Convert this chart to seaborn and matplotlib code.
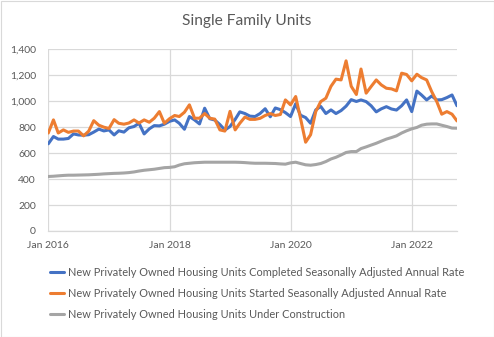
import matplotlib
matplotlib.use("Agg")
import matplotlib.pyplot as plt
import matplotlib.dates as mdates
from matplotlib.ticker import FuncFormatter
from matplotlib.patches import Rectangle
import pandas as pd
import seaborn as sns

start_month = "2016-01-01"
n_months = 82  # Jan 2016 .. Oct 2022

completed = [672, 728, 708, 708, 713, 748, 740, 738, 742, 762, 785, 771,
             779, 740, 772, 762, 795, 805, 830, 748, 787, 812, 810, 823,
             845, 856, 830, 784, 882, 856, 825, 946, 865, 855, 820, 778,
             805, 860, 918, 905, 885, 882, 905, 942, 880, 948, 935, 912,
             882, 980, 892, 874, 830, 933, 960, 905, 933, 905, 928, 962,
             1012, 998, 1010, 997, 965, 918, 941, 958, 940, 932, 965, 1010,
             920, 1078, 1048, 1010, 1040, 1010, 1012, 1028, 1048, 965]

started = [755, 856, 755, 779, 760, 770, 770, 733, 770, 850, 815, 800,
           790, 858, 830, 823, 832, 856, 832, 856, 838, 869, 920, 830,
           865, 890, 882, 915, 972, 869, 869, 905, 869, 862, 779, 770,
           922, 779, 830, 878, 860, 860, 868, 890, 905, 890, 898, 1010,
           972, 1036, 869, 684, 742, 920, 997, 1023, 1115, 1170, 1164, 1311,
           1115, 1052, 1248, 1062, 1113, 1164, 1126, 1100, 1095, 1080, 1216, 1206,
           1157, 1208, 1182, 1164, 1075, 997, 900, 920, 900, 848]

under_construction = [420, 422, 425, 428, 430, 430, 431, 432, 433, 435, 437, 440,
                      442, 444, 445, 447, 450, 455, 462, 468, 472, 476, 482, 488,
                      490, 495, 508, 518, 522, 526, 528, 530, 530, 530, 530, 530,
                      530, 530, 529, 527, 524, 522, 522, 522, 521, 520, 517, 515,
                      525, 530, 520, 510, 507, 512, 520, 535, 555, 568, 586, 605,
                      612, 612, 635, 648, 662, 676, 692, 708, 720, 733, 755, 772,
                      787, 798, 815, 823, 825, 825, 815, 805, 793, 792]

series_names = [
    "New Privately Owned Housing Units Completed Seasonally Adjusted Annual Rate",
    "New Privately Owned Housing Units Started Seasonally Adjusted Annual Rate",
    "New Privately Owned Housing Units Under Construction",
]
series_colors = ["#4472C4", "#ED7D31", "#A5A5A5"]
title_text = "Single Family Units"
tick_years = [2016, 2018, 2020, 2022]

dates = pd.date_range(start_month, periods=n_months, freq="MS")
frames = []
for name, vals in zip(series_names, [completed, started, under_construction]):
    frames.append(pd.DataFrame({"date": dates, "value": vals, "series": name}))
df = pd.concat(frames, ignore_index=True)

sns.set_style("white")
plt.rcParams["font.family"] = ["Lato", "DejaVu Sans"]

W, H = 494, 337
fig = plt.figure(figsize=(W / 100, H / 100), dpi=100)
fig.patch.set_facecolor("white")

left, right, top, bottom = 48.3, 457.0, 49.3, 231.0
ax = fig.add_axes([left / W, 1 - bottom / H, (right - left) / W, (bottom - top) / H])

sns.lineplot(data=df, x="date", y="value", hue="series", palette=series_colors,
             hue_order=series_names, linewidth=2.2, ax=ax, legend=True)

ax.set_ylim(0, 1400)
ax.set_xlim(dates[0], dates[-1])
ax.set_yticks(range(0, 1401, 200))
ax.yaxis.set_major_formatter(FuncFormatter(lambda v, p: f"{int(v):,}"))
ax.set_xticks([pd.Timestamp(f"{y}-01-01") for y in tick_years])
ax.xaxis.set_major_formatter(mdates.DateFormatter("%b %Y"))
ax.grid(True, color="#D9D9D9", linewidth=0.9)
ax.set_axisbelow(True)
for s in ["top", "right", "left"]:
    ax.spines[s].set_visible(False)
ax.spines["bottom"].set_color("#D9D9D9")
ax.spines["bottom"].set_linewidth(0.9)
ax.tick_params(axis="both", length=0, colors="#595959", labelsize=7.5)
ax.tick_params(axis="y", pad=9)
ax.tick_params(axis="x", pad=7.5)
ax.set_xlabel("")
ax.set_ylabel("")

handles, labels = ax.get_legend_handles_labels()
ax.get_legend().remove()
leg = fig.legend(handles, labels, loc="upper left",
                 bbox_to_anchor=(50 / W, 1 - 267 / H),
                 frameon=False, fontsize=7.9, handlelength=1.3,
                 handletextpad=0.3, labelspacing=0.9, borderpad=0,
                 borderaxespad=0)
for t in leg.get_texts():
    t.set_color("#595959")

fig.text(0.5, 1 - 21.5 / H, title_text, ha="center", va="center",
         fontsize=11.2, color="#595959")

fig.add_artist(Rectangle((0.5 / W, 0.5 / H), 1 - 1 / W, 1 - 1 / H,
                         transform=fig.transFigure, fill=False,
                         edgecolor="#D9D9D9", linewidth=0.8))

fig.savefig("out.png", dpi=100)
